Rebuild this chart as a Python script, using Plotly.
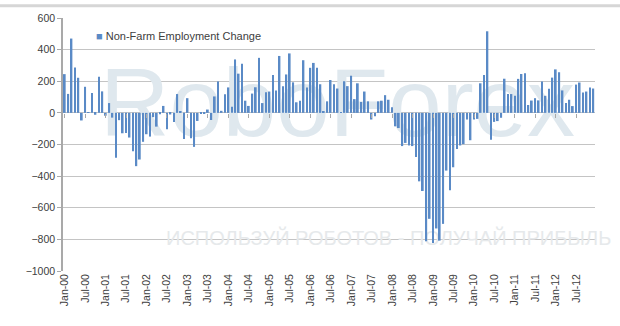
import pandas as pd
import plotly.graph_objects as go

# Monthly change in US non-farm payrolls, thousands
nfp_2000 = [245, 120, 470, 287, 222, -48, 165, 5, 125, -12, 228, 136]
nfp_2001 = [-18, 62, -30, -284, -46, -129, -128, -156, -243, -337, -295, -183]
nfp_2002 = [-135, -150, -27, -87, -9, 44, -104, -10, -57, 119, 9, -165]
nfp_2003 = [93, -160, -215, -51, -5, -2, 21, -45, 104, 199, 13, 118]
nfp_2004 = [161, 38, 338, 248, 310, 77, 44, 122, 162, 348, 62, 130]
nfp_2005 = [135, 240, 142, 360, 169, 243, 376, 193, 67, 77, 333, 160]
nfp_2006 = [285, 316, 285, 181, 10, 73, 208, 181, 154, 3, 200, 169]
nfp_2007 = [235, 87, 187, 69, 135, 73, -42, -21, 73, 77, 112, 83]
nfp_2008 = [36, -85, -96, -210, -190, -206, -210, -279, -433, -494, -812, -670]
nfp_2009 = [-823, -731, -808, -702, -365, -490, -344, -229, -206, -198, -42, -173]
nfp_2010 = [-42, -38, 187, 240, 516, -170, -57, -52, -31, 216, 119, 119]
nfp_2011 = [108, 215, 246, 250, 50, 78, 93, 79, 198, 108, 152, 223]
nfp_2012 = [275, 257, 142, 62, 83, 43, 179, 192, 129, 135, 160, 154]

values = (nfp_2000 + nfp_2001 + nfp_2002 + nfp_2003 + nfp_2004 + nfp_2005 + nfp_2006
          + nfp_2007 + nfp_2008 + nfp_2009 + nfp_2010 + nfp_2011 + nfp_2012)
months = pd.date_range("2000-01-01", periods=len(values), freq="MS")
tick_months = list(months[::6])
tick_labels = [m.strftime("%b-%y") for m in tick_months]
y_ticks = [-1000, -800, -600, -400, -200, 0, 200, 400, 600]

series_name = "Non-Farm Employment Change"
bar_color = "#5a8ac6"
x_range = ["1999-12-16", "2012-12-16"]
y_range = [-1000, 600]

fig = go.Figure()

# faint brand watermark, kept on the base axes so the bars sit above it
fig.add_trace(go.Scatter(
    x=[pd.Timestamp("2006-09-01")], y=[5], mode="text", text=["RoboForex"],
    textfont=dict(family="Liberation Sans, Arial, sans-serif", size=96, color="#dfe8ee"),
    cliponaxis=False, hoverinfo="skip", showlegend=False,
))
fig.add_trace(go.Scatter(
    x=[pd.Timestamp("2007-12-01")], y=[-805], mode="text",
    text=["ИСПОЛЬЗУЙ РОБОТОВ - ПОЛУЧАЙ ПРИБЫЛЬ"],
    textfont=dict(family="Liberation Sans, Arial, sans-serif", size=20, color="#e6e9eb"),
    cliponaxis=False, hoverinfo="skip", showlegend=False,
))

fig.add_trace(go.Bar(
    x=months, y=values, name=series_name, marker=dict(color=bar_color, line=dict(width=0)),
    xaxis="x2", yaxis="y2", showlegend=False,
))

tick_font = dict(family="Liberation Sans, Arial, sans-serif", size=10.5, color="#404040")

fig.update_layout(
    width=620, height=326,
    margin=dict(l=63, r=25, t=14, b=55),
    paper_bgcolor="white", plot_bgcolor="white",
    bargap=0.45,
    xaxis=dict(
        type="date", range=x_range, tickvals=tick_months, ticktext=tick_labels,
        tickangle=-90, tickfont=tick_font, showgrid=False, zeroline=False,
        showline=False, ticks="", fixedrange=True,
    ),
    yaxis=dict(
        range=y_range, tickvals=y_ticks, tickfont=tick_font,
        showgrid=True, gridcolor="#c4c4c4", gridwidth=1.2, zeroline=False,
        showline=True, linecolor="#a9a9a9", linewidth=1.5,
        ticks="outside", ticklen=4, tickcolor="#a9a9a9",
    ),
    xaxis2=dict(
        type="date", range=x_range, overlaying="x", anchor="free",
        position=(0 - y_range[0]) / (y_range[1] - y_range[0]),
        tickvals=tick_months, showticklabels=False, ticks="outside", ticklen=4,
        tickcolor="#a9a9a9", showgrid=False, zeroline=False, showline=False,
    ),
    yaxis2=dict(range=y_range, overlaying="y", visible=False),
    showlegend=False,
    annotations=[dict(
        xref="paper", yref="paper", x=0.058, y=0.928, xanchor="left", yanchor="middle",
        showarrow=False,
        text=f'<span style="color:{bar_color}">■</span> {series_name}',
        font=dict(family="Liberation Sans, Arial, sans-serif", size=11, color="#404040"),
    )],
    shapes=[dict(
        type="line", xref="paper", yref="paper", x0=-0.12, x1=1.05, y0=1.048, y1=1.048,
        line=dict(color="#d6d6d6", width=3),
    )],
)

fig.write_html("out.html")
